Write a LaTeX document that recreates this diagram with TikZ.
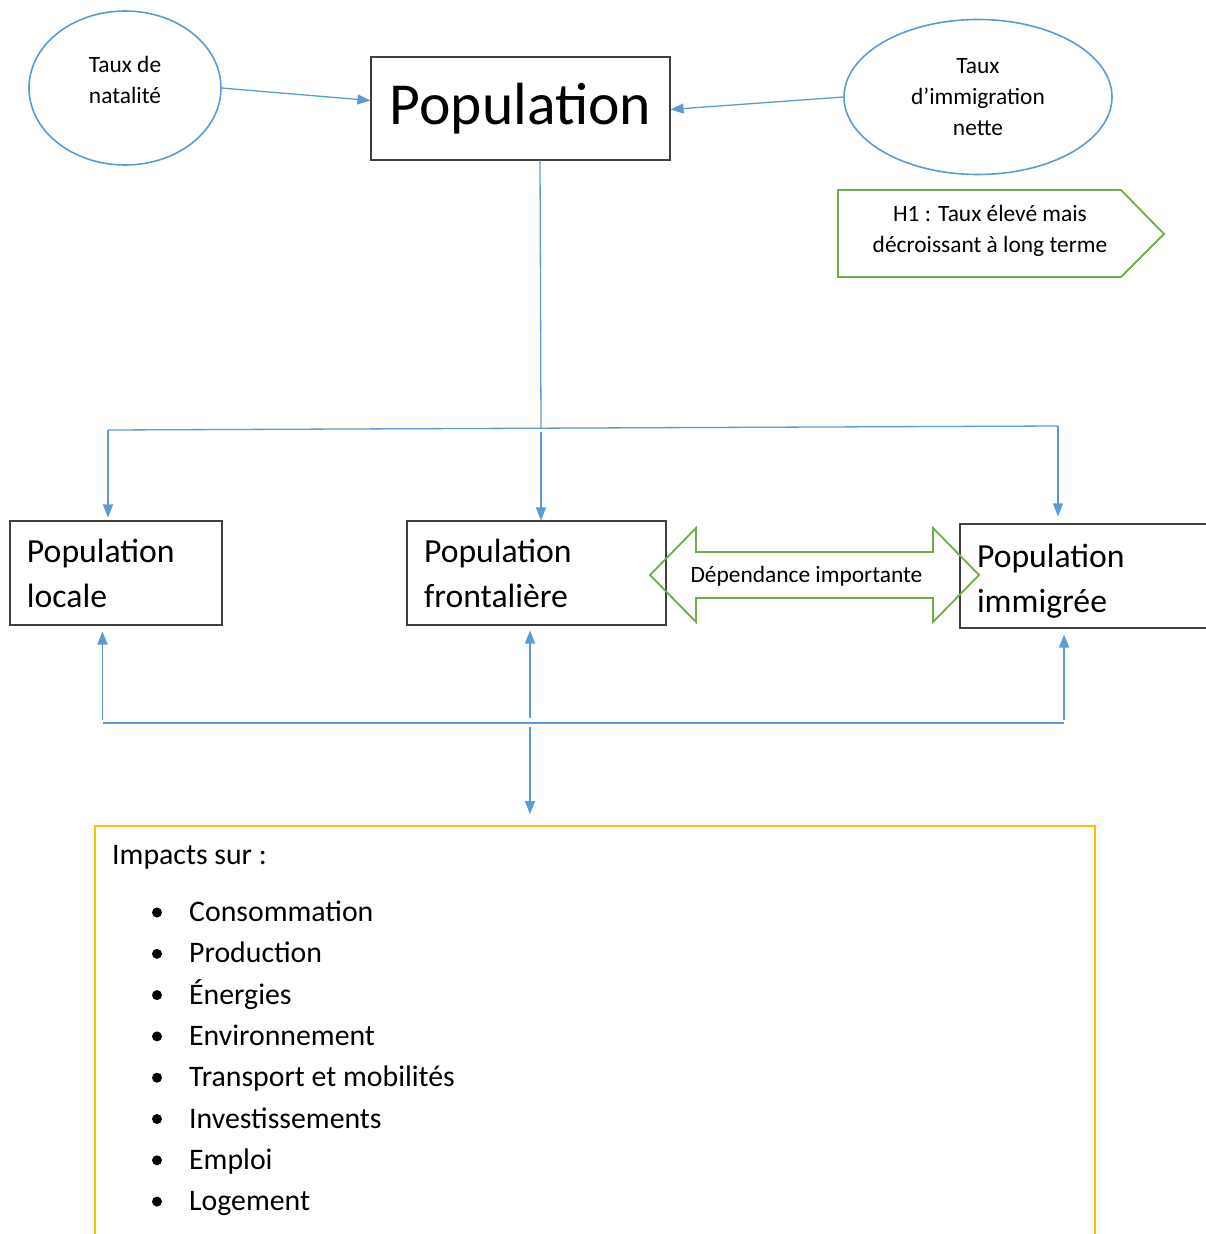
\documentclass[tikz,border=0pt]{standalone}
\usepackage{fontspec}
\setmainfont{Carlito}
\usetikzlibrary{arrows.meta,shapes.geometric}
\definecolor{cblue}{HTML}{5B9BD5}
\definecolor{cgreen}{HTML}{70AD47}
\definecolor{cyellow}{HTML}{FFC000}
\definecolor{cgray}{HTML}{3F3F3F}
\begin{document}
\begin{tikzpicture}[x=1pt,y=-1pt,
  blueline/.style={draw=cblue, line width=1.3pt},
  bluearrow/.style={blueline, -{Triangle[length=13pt,width=10pt]}},
  oval/.style={draw=cblue, line width=1.6pt, ellipse, inner sep=0pt},
  smalltxt/.style={font=\fontsize{23.4}{31}\selectfont, align=center, inner sep=0pt},
  boxtxt/.style={draw=cgray, line width=1.1pt, rectangle, inner ysep=0pt, inner xsep=17pt, align=left, font=\fontsize{33.7}{45}\selectfont},
  greenshape/.style={draw=cgreen, line width=1.8pt, line join=miter},
  itm/.style={anchor=base west, inner sep=0pt, font=\fontsize{29.8}{40}\selectfont}
]
\useasboundingbox (0,0) rectangle (1206,1234);

% top level
\node[oval, minimum width=192pt, minimum height=154pt] (nat) at (125,88) {};
\node[smalltxt] (natt) at (125,80) {Taux de\\natalité};
\node[draw=cgray, line width=1.1pt, rectangle, minimum width=299pt, minimum height=103pt, inner sep=0pt,
      font=\fontsize{59.6}{70}\selectfont] (pop) at (520.5,108.5) {Population};
\node[oval, minimum width=268pt, minimum height=155pt, smalltxt] (imm) at (978,97) {Taux\\d’immigration\\nette};

\draw[bluearrow] (nat.east) -- ([yshift=8pt]pop.west);
\draw[bluearrow] (imm.west) -- ([yshift=-1pt]pop.east);

% hypothesis
\draw[greenshape] (838,190) -- (1121,190) -- (1164,234) -- (1121,277) -- (838,277) -- cycle;
\node[smalltxt] (h1) at (990,230.5) {H1 : Taux élevé mais\\décroissant à long terme};

% second level boxes
\node[boxtxt, minimum width=212pt, minimum height=104pt, text width=178pt] (loc) at (116,573) {Population\\locale};
\node[boxtxt, minimum width=259pt, minimum height=104pt, text width=225pt] (fro) at (536.5,573) {Population\\frontalière};
\node[boxtxt, minimum width=262pt, minimum height=104pt, text width=228pt] (pim) at (1091,576) {\rule{0pt}{33pt}Population\\immigrée};

% branch from population
\coordinate (ps) at (540,160.5);
\coordinate (tm) at (541,428);
\coordinate (tl) at (108,430);
\coordinate (tr) at (1058,426);
\draw[blueline] (ps) -- (tm);
\draw[blueline] (tl) -- (tr);
\draw[bluearrow, shorten >=3pt] (tl) -- (tl |- loc.north);
\draw[bluearrow, shorten >=0pt] ([yshift=-4pt]tm) -- (tm |- fro.north);
\draw[bluearrow, shorten >=7pt] (tr) -- (tr |- pim.north);

% dependency double arrow
\draw[greenshape] (650,575) -- (696,528) -- (696,552) -- (933,552) -- (933,528) -- (979,575)
   -- (933,622) -- (933,598) -- (696,598) -- (696,622) -- cycle;
\node[smalltxt] (dep) at (806.5,576) {Dépendance importante};

% impacts box
\node[draw=cyellow, line width=1.8pt, rectangle, minimum width=1000pt, minimum height=430pt, inner sep=0pt] (imp) at (595,1041) {};

% bottom branch
\coordinate (bl) at (102.5,723);
\coordinate (bm) at (530,723);
\coordinate (br) at (1064,723);
\draw[blueline] (bl) -- (br);
\draw[bluearrow, shorten >=6pt] ([yshift=3pt]bl) -- (bl |- loc.south);
\draw[bluearrow, shorten >=5pt] ([yshift=5pt]bm) -- (bm |- fro.south);
\draw[bluearrow, shorten >=6pt] ([yshift=3pt]br) -- (br |- pim.south);
\draw[bluearrow, shorten >=11pt] ([yshift=-4pt]bm) -- (bm |- imp.north);

% impacts text
\node[itm] (impt) at (112,864) {Impacts sur :};
\foreach \t [count=\i] in {Consommation, Production, Énergies, Environnement, Transport et mobilités, Investissements, Emploi, Logement} {
  \node[itm] (item\i) at (189,{921.5+41.3*(\i-1)}) {\t};
  \fill ({157},{912.5+41.3*(\i-1)}) circle (5pt);
}
\end{tikzpicture}
\end{document}
